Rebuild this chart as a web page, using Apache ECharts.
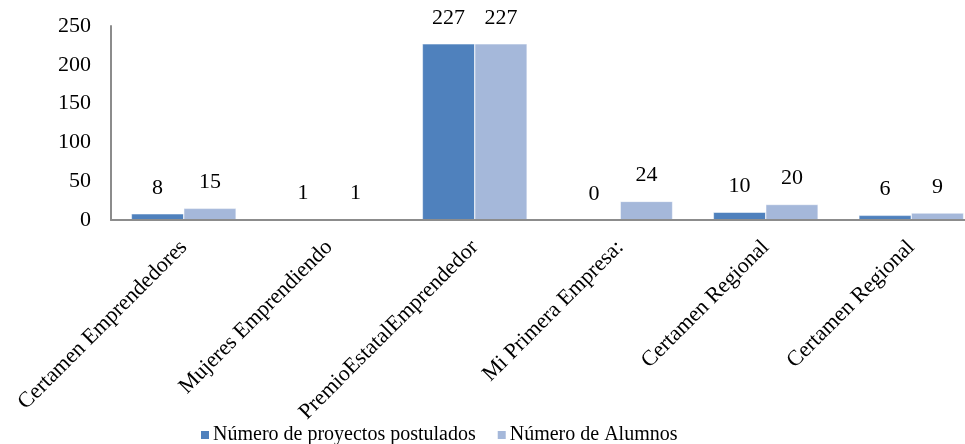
<!DOCTYPE html>
<html>
<head>
<meta charset="utf-8">
<script src="https://cdn.jsdelivr.net/npm/echarts@6/dist/echarts.min.js"></script>
<style>
  html, body { margin: 0; padding: 0; background: #fff; }
  #chart { width: 965px; height: 444px; }
</style>
</head>
<body>
<div id="chart"></div>
<script>
// Programs and the two counts reported for each one
const categories = [
  'Certamen Emprendedores',
  'Mujeres Emprendiendo',
  'PremioEstatalEmprendedor',
  'Mi Primera Empresa:',
  'Certamen Regional',
  'Certamen Regional'
];
const seriesNames = ['Número de proyectos postulados', 'Número de Alumnos'];
const proyectos = [8, 1, 227, 0, 10, 6];
const alumnos = [15, 1, 227, 24, 20, 9];
const yTicks = { min: 0, max: 250, interval: 50 };

const FONT = '"Liberation Serif", "DejaVu Serif", serif';
const colors = ['#4F81BD', '#A5B8DA'];

const chart = echarts.init(document.getElementById('chart'), null, { renderer: 'canvas' });

function barSeries(name, data, color) {
  return {
    name: name,
    type: 'bar',
    data: data,
    barGap: '0%',
    barCategoryGap: '28%',
    itemStyle: { color: color, borderColor: '#fff', borderWidth: 0.5 },
    label: {
      show: true,
      position: 'top',
      distance: 15,
      color: '#000',
      fontFamily: FONT,
      fontSize: 22
    }
  };
}

chart.setOption({
  animation: false,
  textStyle: { fontFamily: FONT },
  // plot area runs past the right edge of the canvas
  grid: { left: 111, top: 26, width: 873, height: 194, containLabel: false, outerBoundsMode: 'none' },
  legend: {
    left: 194,
    top: 420,
    itemWidth: 10,
    itemHeight: 10,
    itemGap: 20,
    icon: 'rect',
    textStyle: { fontFamily: FONT, fontSize: 20, color: '#000', padding: [0, 0, 0, -2] },
    data: seriesNames
  },
  xAxis: {
    type: 'category',
    data: categories,
    z: 5,
    axisLine: { lineStyle: { color: '#8c8c8c', width: 2 } },
    axisTick: { show: false },
    axisLabel: {
      interval: 0,
      rotate: 45,
      margin: 24,
      color: '#000',
      fontFamily: FONT,
      fontSize: 22
    }
  },
  yAxis: {
    type: 'value',
    min: yTicks.min,
    max: yTicks.max,
    interval: yTicks.interval,
    z: 5,
    splitLine: { show: false },
    axisLine: { show: true, lineStyle: { color: '#8c8c8c', width: 2 } },
    axisTick: { show: false },
    axisLabel: {
      margin: 20,
      color: '#000',
      fontFamily: FONT,
      fontSize: 22
    }
  },
  series: [
    barSeries(seriesNames[0], proyectos, colors[0]),
    barSeries(seriesNames[1], alumnos, colors[1])
  ]
});
</script>
</body>
</html>
